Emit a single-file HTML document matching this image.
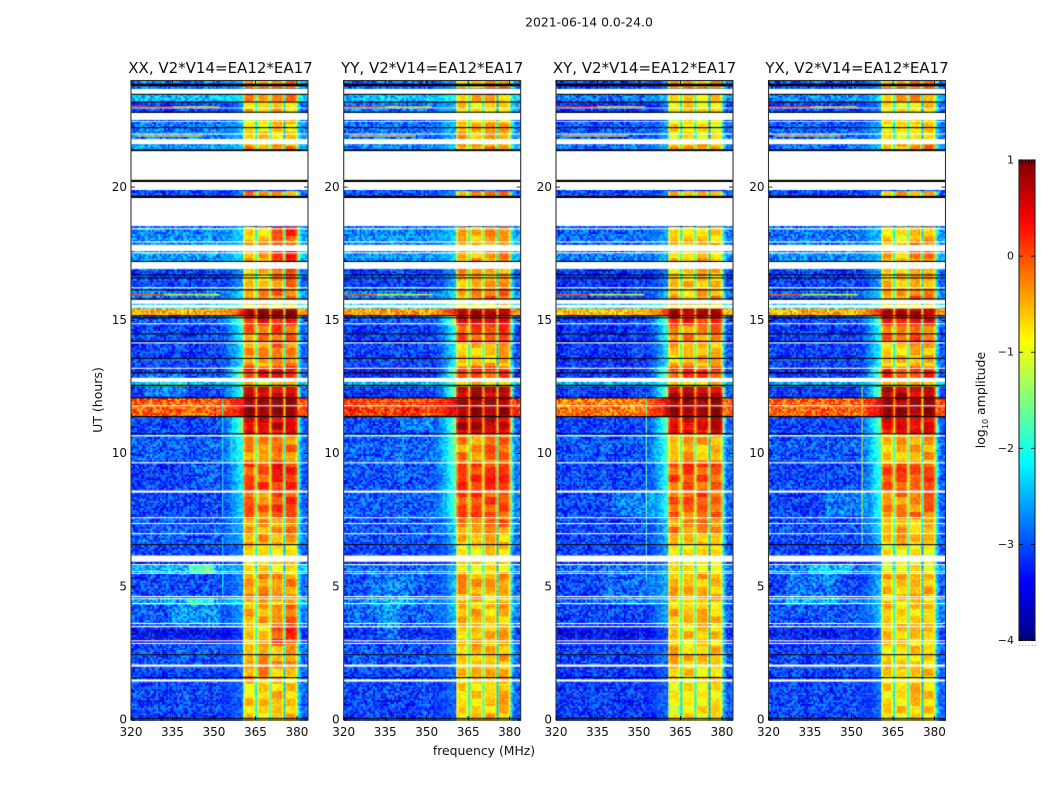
<!DOCTYPE html>
<html lang="en">
<head>
<meta charset="utf-8">
<title>2021-06-14 spectrograms</title>
<style>
html,body{margin:0;padding:0;background:#fff;}
#stage{position:relative;width:1050px;height:800px;overflow:hidden;background:#fff;font-family:"DejaVu Sans","Liberation Sans",sans-serif;}
canvas{position:absolute;display:block;}
svg{position:absolute;left:0;top:0;}
text{font-family:"DejaVu Sans","Liberation Sans",sans-serif;fill:#111;}
</style>
</head>
<body>
<div id="stage">
<canvas id="heat0"></canvas>
<canvas id="heat1"></canvas>
<canvas id="heat2"></canvas>
<canvas id="heat3"></canvas>
<svg id="overlay" width="1050" height="800" viewBox="0 0 1050 800">
<text x="589" y="26.5" font-size="12.4" text-anchor="middle">2021-06-14 0.0-24.0</text>
<text x="102" y="400" font-size="12.5" text-anchor="middle" transform="rotate(-90 102 400)">UT (hours)</text>
<text x="484" y="755" font-size="12.4" text-anchor="middle">frequency (MHz)</text>
<text x="985" y="400" font-size="12.5" text-anchor="middle" transform="rotate(-90 985 400)">log<tspan font-size="8" dy="3">10</tspan><tspan dy="-3"> amplitude</tspan></text>
</svg>
</div>
<script>
// Axis ticks and labels
const xTicks = [320, 335, 350, 365, 380];
const yTicks = [0, 5, 10, 15, 20];
const cbarTicks = [1, 0, -1, -2, -3, -4];
const panelNames = ["XX", "YY", "XY", "YX"];
const baselineName = "V2*V14=EA12*EA17";

// UT boundaries (hours) of the observing bands
const bandEdges = [0,1.5,2.06,2.89,3.52,4.35,4.61,5.51,5.85,6.19,6.6,6.97,7.61,8.62,9.67,10.76,11.4,12.11,12.56,12.71,13.27,14.17,14.85,15.19,15.49,15.67,16.24,16.95,17.62,18.07,18.56,19.61,19.91,21.43,21.63,22.46,22.8,23.21,23.51,23.7,24];

// log10 amplitude per band: below 350 MHz
const lowXX = [-3.12,-3.12,-3.02,-3.42,-2.97,-2.62,-3.07,-2.52,-3.12,-3.12,-2.97,-2.97,-3.12,-3.17,-2.97,-3.12,-0.1,-3.12,-2.42,-3.12,-3.12,-3.12,-3.02,-0.5,-2.32,-2.82,-3.12,-2.62,-2.72,-2.72,-3,-3.12,-3,-2.62,-2.82,-3.02,-3.12,-2.42,-3,-2.82];
const lowYY = [-3.12,-3.07,-3.02,-3.22,-2.97,-2.82,-3.07,-2.92,-3.22,-3.12,-3.02,-3.02,-2.97,-3.02,-2.92,-3.07,0.1,-3.22,-2.52,-3.32,-3.12,-3.17,-3.02,-0.4,-2.32,-2.82,-3.12,-2.72,-2.72,-2.72,-3,-3.02,-3,-2.72,-2.87,-3.02,-2.82,-2.42,-3,-2.92];
const lowXY = [-3.17,-3.17,-3.12,-3.42,-3.12,-3.02,-3.12,-2.92,-3.22,-3.12,-3.12,-3.12,-3.12,-3.12,-3.02,-3.12,-0.2,-3.22,-2.52,-3.22,-3.22,-3.22,-3.12,-0.6,-2.42,-3.02,-3.22,-2.82,-2.92,-2.92,-3,-3.12,-3,-2.82,-3.02,-3.22,-3.22,-2.82,-3,-3.12];
const lowYX = [-3.12,-3.12,-3.12,-3.32,-3.02,-2.82,-3.12,-2.82,-3.22,-3.12,-3.07,-3.07,-3.12,-3.12,-3.02,-3.12,-0.1,-3.22,-2.52,-3.22,-3.17,-3.17,-3.12,-0.5,-2.42,-2.92,-3.12,-2.72,-2.82,-2.82,-3,-3.12,-3,-2.82,-2.97,-3.12,-3.12,-2.72,-3,-3.02];

// log10 amplitude per band: just below 360 MHz
const midXX = [-2.9,-2.9,-2.8,-3.1,-2.6,-2.3,-2.7,-2.6,-2.9,-2.8,-2.5,-2.5,-2.2,-2.0,-1.9,-1.3,0.5,-1.7,-1.7,-1.3,-2.1,-1.9,-1.3,0.3,-1.8,-2.3,-2.6,-2.2,-2.3,-2.3,-3,-2.8,-3,-2.3,-2.4,-2.6,-2.7,-2.1,-3,-2.5];
const midYY = [-2.9,-2.8,-2.7,-2.9,-2.4,-2.3,-2.4,-2.5,-2.7,-2.6,-2.3,-2.2,-1.6,-1.6,-1.4,-1.4,0.6,-1.3,-1.7,-1.3,-2.0,-1.8,-1.2,0.4,-1.6,-2.2,-2.5,-2.3,-2.3,-2.3,-3,-2.6,-3,-2.3,-2.4,-2.6,-2.5,-2.0,-3,-2.5];
const midXY = [-2.9,-2.9,-2.8,-3.0,-2.5,-2.4,-2.4,-2.5,-2.7,-2.6,-2.4,-2.3,-1.9,-1.9,-1.7,-1.5,0.6,-1.4,-1.8,-1.4,-2.1,-1.9,-1.4,0.3,-1.8,-2.4,-2.7,-2.4,-2.5,-2.5,-3,-2.8,-3,-2.4,-2.6,-2.8,-2.8,-2.3,-3,-2.7];
const midYX = [-2.9,-2.8,-2.7,-2.9,-2.4,-2.4,-2.4,-2.5,-2.7,-2.6,-2.4,-2.2,-1.9,-1.8,-1.6,-1.5,0.6,-1.4,-1.8,-1.4,-2.0,-1.9,-1.4,0.3,-1.8,-2.3,-2.6,-2.4,-2.4,-2.4,-3,-2.8,-3,-2.4,-2.5,-2.8,-2.8,-2.2,-3,-2.6];

// log10 amplitude per band: spectral windows 1 and 2 (361-370 MHz)
const hiAXX = [-0.65,-0.3,-0.45,-0.6,-0.45,-0.5,-0.25,-0.75,-0.7,-0.7,-0.45,-0.35,-0.15,0.05,-0.3,0.6,0.95,0.7,-0.6,0.4,-0.35,-0.15,0.4,0.85,-0.7,-0.3,-0.6,-0.4,-0.35,-0.6,-3,-0.25,-3,-0.3,-0.75,-0.7,-0.6,-0.25,-3,-0.3];
const hiAYY = [-0.65,-0.55,-0.5,-0.55,-0.5,-0.5,-0.4,-0.75,-0.75,-0.75,-0.55,-0.25,0.1,0.15,-0.25,0.75,1,0.75,-0.6,0.2,-0.6,0.05,0.55,0.9,-0.7,-0.4,-0.4,-0.45,-0.45,-0.6,-3,-0.3,-3,-0.35,-0.5,-0.7,-0.7,-0.4,-3,-0.6];
const hiAXY = [-0.85,-0.6,-0.55,-0.65,-0.5,-0.6,-0.45,-0.75,-0.85,-0.8,-0.45,-0.25,-0.05,0.05,-0.45,0.55,1,0.75,-0.6,0.15,-0.5,-0.25,0.4,0.8,-0.7,-0.5,-0.6,-0.6,-0.5,-0.7,-3,-0.4,-3,-0.45,-0.75,-0.8,-0.8,-0.5,-3,-0.3];
const hiAYX = [-0.7,-0.6,-0.65,-0.6,-0.6,-0.6,-0.5,-0.85,-0.85,-0.85,-0.55,-0.5,-0.25,0.05,-0.5,0.55,1,0.8,-0.65,0.15,-0.65,-0.1,0.4,0.8,-0.7,-0.4,-0.6,-0.5,-0.55,-0.7,-3,-0.4,-3,-0.45,-0.8,-0.8,-0.7,-0.4,-3,-0.35];

// log10 amplitude per band: spectral windows 3 and 4 (371-380 MHz)
const hiBXX = [-0.55,-0.55,-0.35,0.1,-0.2,-0.5,-0.3,-0.75,-0.7,-0.7,-0.4,-0.25,0.05,0.2,-0.2,0.6,0.95,0.65,-0.6,0.35,-0.2,0,0.4,0.85,-0.7,-0.2,-0.2,0.25,-0.05,0.15,-3,-0.3,-3,-0.3,-0.7,-0.75,-0.55,-0.35,-3,-0.1];
const hiBYY = [-0.6,-0.5,-0.5,-0.5,-0.55,-0.6,-0.45,-0.75,-0.75,-0.7,-0.6,-0.2,0.05,0.2,-0.1,0.65,1,0.65,-0.65,0.15,-0.55,0.1,0.5,0.9,-0.7,-0.05,-0.4,-0.35,-0.3,-0.35,-3,-0.3,-3,-0.3,-0.4,-0.7,-0.75,-0.55,-3,-0.15];
const hiBXY = [-0.75,-0.7,-0.6,-0.6,-0.6,-0.65,-0.5,-0.8,-0.85,-0.75,-0.5,-0.3,-0.05,0,-0.5,0.55,1,0.65,-0.65,0.15,-0.5,-0.25,0.35,0.8,-0.75,-0.35,-0.6,-0.5,-0.55,-0.6,-3,-0.5,-3,-0.4,-0.8,-0.8,-0.8,-0.6,-3,-0.35];
const hiBYX = [-0.65,-0.65,-0.65,-0.6,-0.6,-0.65,-0.5,-0.85,-0.85,-0.8,-0.6,-0.5,-0.2,0.05,-0.4,0.55,1,0.7,-0.6,0.15,-0.5,-0.05,0.4,0.8,-0.7,-0.05,-0.5,-0.2,-0.3,-0.5,-3,-0.4,-3,-0.3,-0.65,-0.8,-0.7,-0.3,-3,-0.2];

const lowSeries = [lowXX, lowYY, lowXY, lowYX];
const midSeries = [midXX, midYY, midXY, midYX];
const hiASeries = [hiAXX, hiAYY, hiAXY, hiAYX];
const hiBSeries = [hiBXX, hiBYY, hiBXY, hiBYX];

// Spectral window limits in MHz
const windowStart = [360.6, 365.6, 370.7, 375.8];
const windowEnd = [365.0, 370.1, 375.2, 380.1];

// Centres (MHz) of the gaps between windows and how far each drops, in log amplitude
const gapCentre = [365.3, 370.4, 375.5];
const gapDrop = [1.5, 1.3, 1.9];

// Flagged data in UT hours: white = no data, black = zero amplitude
const whiteStart = [1.46,2.02,2.87,2.97,3.5,3.62,4.37,4.55,4.63,5.5,5.57,5.83,5.96,6.99,7.37,7.59,8.55,9.65,10.66,11.79,12.71,13.2,14.15,14.87,15.49,15.64,16.22,16.95,17.53,17.62,17.94,18.43,18.56,19.91,20.28,21.63,21.99,22.47,22.54,22.97,23.51];
const whiteEnd = [1.54,2.1,2.91,3.01,3.54,3.66,4.41,4.58,4.67,5.53,5.6,5.87,6.19,7.03,7.41,7.63,8.63,9.69,10.71,11.83,12.86,13.24,14.19,14.91,15.6,15.79,16.26,17.21,17.57,17.85,17.98,18.47,19.61,20.21,21.37,21.82,22.03,22.5,22.8,23.0,23.7];
const blackStart = [0.06,1.59,2.45,6.58,10.74,11.38,12.09,12.54,13.03,13.57,14.21,14.49,15.09,15.17,15.8,16.14,16.59,16.7,17.21,19.61,20.21,21.37,22.23,22.81,23.19,23.48,23.8];
const blackEnd = [0.1,1.63,2.49,6.62,10.78,11.43,12.13,12.6,13.07,13.61,14.25,14.53,15.13,15.21,15.84,16.18,16.63,16.74,17.25,19.69,20.29,21.44,22.27,22.85,23.23,23.52,23.9];

// Narrow horizontal RFI streaks: UT, start MHz, end MHz, log amplitude
const streakUT = [23.05,23.05,21.96,16.0,16.0];
const streakF0 = [320,335,322,320,332];
const streakF1 = [335,352,346,332,352];
const streakValue = [0.1,-0.8,-0.7,0.0,-0.9];

// Broad low-frequency enhancements per polarisation: UT range, MHz range, log offset
const patchPanel = [0,0,0,0,1,1,2,3,3,0,1,2,3];
const patchUT0 = [3.55,5.51,4.35,12.2,3.0,4.35,4.35,4.35,5.51,8.7,10.9,7.7,7.7];
const patchUT1 = [4.35,5.85,4.61,13.0,4.35,5.51,5.51,5.51,5.85,9.6,11.4,8.6,8.6];
const patchF0 = [335,341,340,325,332,330,338,326,335,342,340,340,340];
const patchF1 = [352,350,350,340,340,345,356,345,350,352,352,356,356];
const patchDelta = [0.3,0.8,0.7,0.3,0.35,0.3,0.25,0.3,0.4,0.25,0.3,0.35,0.3];

// Vertical narrow-band interference: panel, MHz, UT range, log amplitude
const lineF = [353.0,356.0,358.5,353.0,353.0,352.5,352.5,352.5,353.5,353.5,353.5];
const linePanel = [0,0,0,0,0,2,2,2,3,3,3];
const lineUT0 = [7.6,9.7,9.7,4.6,5.0,7.6,9.7,5.2,9.7,7.6,6.5];
const lineUT1 = [12.1,10.8,10.8,5.5,6.9,9.6,12.2,7.6,12.6,9.6,7.6];
const lineValue = [-1.9,-1.8,-1.8,-2.0,-2.1,-1.6,-1.6,-1.8,-1.1,-1.1,-1.4];

// Fixed illustrative grain for the noise texture (not measured data)
const speckle = [0.31,-0.42,0.08,-0.17,0.44,-0.29,0.12,-0.38,0.22,-0.05,0.37,-0.46,0.18,-0.11,0.27,-0.33,0.03,0.41,-0.24,0.14,-0.49,0.33,-0.08,0.24,-0.36,0.47,-0.15,0.06,-0.27,0.39,-0.41,0.16,-0.02,0.29,-0.35,0.1,-0.21,0.45,-0.31,0.2,-0.12,0.35,-0.44,0.05,0.26,-0.19,0.42];

// Geometry of the panels
const panelLeft = [131, 343.7, 556, 768.5];
const titleNudge = [1, 0, 0, 0];
const panelWidth = 177;
const plotTop = 80.5;
const plotHeight = 639.5;
const fMin = 320, fMax = 384, utMax = 24;
const cbLeft = 1019, cbRight = 1035, cbTop = 160, cbBottom = 640.5;
const vMin = -4, vMax = 1;

function xScale(f){ return (f - fMin) / (fMax - fMin) * panelWidth; }
function yScale(ut){ return plotHeight * (1 - ut / utMax); }
function cbScale(v){ return cbBottom - (v - vMin) / (vMax - vMin) * (cbBottom - cbTop); }
function clamp01(t){ return Math.max(0, Math.min(1, t)); }
function jet(v){
  const t = clamp01((v - vMin) / (vMax - vMin));
  const r = clamp01(Math.min(4 * t - 1.5, 4.5 - 4 * t));
  const g = clamp01(Math.min(4 * t - 0.5, 3.5 - 4 * t));
  const b = clamp01(Math.min(4 * t + 0.5, 2.5 - 4 * t));
  return "rgb(" + Math.round(r * 255) + "," + Math.round(g * 255) + "," + Math.round(b * 255) + ")";
}
function bandIndex(ut){
  for (let k = 0; k < bandEdges.length - 1; k++) {
    if (ut < bandEdges[k + 1]) return k;
  }
  return bandEdges.length - 2;
}
function windowLevel(p, k, f){
  return f < 370.4 ? hiASeries[p][k] : hiBSeries[p][k];
}
function cellValue(p, ut, f, grain, rowGrain){
  const k = bandIndex(ut);
  const low = lowSeries[p][k], mid = midSeries[p][k];
  const hi = windowLevel(p, k, f);
  if (f >= windowStart[0] && f <= windowEnd[3]) {
    let margin = 99;
    for (let w = 0; w < 4; w++) {
      if (f >= windowStart[w] - 0.6 && f <= windowEnd[w] + 0.6) {
        margin = Math.min(f - windowStart[w], windowEnd[w] - f);
      }
    }
    const edgeDrop = margin < 0.55 ? 0.4 : 0;
    return hi - edgeDrop + grain * 0.3 + rowGrain * 0.55;
  }
  if (f > windowEnd[3]) {
    const edge = hi - 1.35;
    const rest = low + 0.15;
    const m = clamp01((f - windowEnd[3]) / 1.6);
    return edge + (rest - edge) * m + grain * 0.8;
  }
  let v = low;
  if (f > 350) v = low + (mid - low) * Math.pow((f - 350) / 10.6, 2);
  for (let q = 0; q < patchPanel.length; q++) {
    if (patchPanel[q] === p && ut >= patchUT0[q] && ut < patchUT1[q] && f >= patchF0[q] && f < patchF1[q]) {
      v += patchDelta[q];
    }
  }
  const weight = f > 352 ? 0.6 : 1.05;
  return v + grain * weight;
}
function drawHeatmap(p){
  const canvas = document.getElementById("heat" + p);
  canvas.width = panelWidth;
  canvas.height = Math.ceil(plotHeight);
  canvas.style.left = panelLeft[p] + "px";
  canvas.style.top = plotTop + "px";
  const ctx = canvas.getContext("2d");
  ctx.fillStyle = "#fff";
  ctx.fillRect(0, 0, canvas.width, canvas.height);
  const fStep = 0.7, utStep = 0.07;
  const nf = Math.ceil((fMax - fMin) / fStep);
  const nt = Math.ceil(utMax / utStep);
  for (let j = 0; j < nt; j++) {
    const ut = j * utStep;
    const yTop = yScale(ut + utStep);
    const h = yScale(ut) - yTop;
    for (let i = 0; i < nf; i++) {
      const f = fMin + i * fStep;
      const g = speckle[(i * 7 + j * 13 + (i * j) % 11 + p * 5) % speckle.length];
      const win = f < 365.3 ? 0 : f < 370.4 ? 1 : f < 375.5 ? 2 : 3;
      const rowG = speckle[(Math.floor(j / 4) * 5 + win * 11 + p * 3) % speckle.length];
      ctx.fillStyle = jet(cellValue(p, ut + utStep / 2, f + fStep / 2, g, rowG));
      ctx.fillRect(xScale(f), yTop, xScale(f + fStep) - xScale(f) + 0.3, h + 0.3);
    }
    const k = bandIndex(ut + utStep / 2);
    for (let n = 0; n < gapCentre.length; n++) {
      const g2 = speckle[(j * 3 + n * 7 + p) % speckle.length];
      ctx.fillStyle = jet(windowLevel(p, k, gapCentre[n]) - gapDrop[n] + g2 * 0.4);
      ctx.fillRect(xScale(gapCentre[n] - 0.32), yTop, xScale(gapCentre[n] + 0.32) - xScale(gapCentre[n] - 0.32), h + 0.3);
    }
  }
  for (let s = 0; s < streakUT.length; s++) {
    ctx.fillStyle = jet(streakValue[s]);
    ctx.fillRect(xScale(streakF0[s]), yScale(streakUT[s]), xScale(streakF1[s]) - xScale(streakF0[s]), 1.2);
  }
  for (let l = 0; l < lineF.length; l++) {
    if (linePanel[l] !== p) continue;
    ctx.fillStyle = jet(lineValue[l]);
    ctx.fillRect(xScale(lineF[l]), yScale(lineUT1[l]), 1, yScale(lineUT0[l]) - yScale(lineUT1[l]));
  }
  ctx.fillStyle = "#fff";
  for (let w = 0; w < whiteStart.length; w++) {
    ctx.fillRect(0, yScale(whiteEnd[w]), panelWidth, yScale(whiteStart[w]) - yScale(whiteEnd[w]));
  }
  ctx.fillStyle = "#000";
  for (let b = 0; b < blackStart.length; b++) {
    ctx.fillRect(0, yScale(blackEnd[b]), panelWidth, yScale(blackStart[b]) - yScale(blackEnd[b]));
  }
}

const svgNS = "http://www.w3.org/2000/svg";
const overlay = document.getElementById("overlay");
function addLine(x1, y1, x2, y2, color, width){
  const el = document.createElementNS(svgNS, "line");
  el.setAttribute("x1", x1);
  el.setAttribute("y1", y1);
  el.setAttribute("x2", x2);
  el.setAttribute("y2", y2);
  el.setAttribute("stroke", color);
  el.setAttribute("stroke-width", width);
  overlay.appendChild(el);
  return el;
}
function addText(x, y, str, anchor, size){
  const el = document.createElementNS(svgNS, "text");
  el.setAttribute("x", x);
  el.setAttribute("y", y);
  el.setAttribute("text-anchor", anchor);
  el.setAttribute("font-size", size);
  el.textContent = str;
  overlay.appendChild(el);
  return el;
}
function drawAxes(p){
  const L = panelLeft[p], T = plotTop, R = L + panelWidth, B = plotTop + plotHeight;
  const frame = document.createElementNS(svgNS, "rect");
  frame.setAttribute("x", L);
  frame.setAttribute("y", T);
  frame.setAttribute("width", panelWidth);
  frame.setAttribute("height", plotHeight);
  frame.setAttribute("fill", "none");
  frame.setAttribute("stroke", "#333");
  frame.setAttribute("stroke-width", "1.1");
  
  
  overlay.appendChild(frame);

  const title = addText(L + panelWidth / 2 + titleNudge[p], 73, panelNames[p] + ", " + baselineName, "middle", 15);
  
  

  xTicks.forEach(function(f){
    const x = L + xScale(f);
    const t1 = addLine(x, B, x, B - 4, "#000", 0.8);
    
    
    const t2 = addLine(x, T, x, T + 4, "#000", 0.8);
    
    
    const lab = addText(x, 736, String(f), "middle", 12);
    
    
  });
  yTicks.forEach(function(u){
    const y = T + yScale(u);
    const t1 = addLine(L, y, L + 4, y, "#000", 0.8);
    
    
    const t2 = addLine(R, y, R - 4, y, "#000", 0.8);
    
    
    const lab = addText(L - 4, y + 3.7, String(u), "end", 12);
    
    
  });
}
function drawColorbar(){
  const steps = 240;
  for (let i = 0; i < steps; i++) {
    const v0 = vMin + (vMax - vMin) * i / steps;
    const v1 = vMin + (vMax - vMin) * (i + 1) / steps;
    const r = document.createElementNS(svgNS, "rect");
    r.setAttribute("x", cbLeft);
    r.setAttribute("y", cbScale(v1));
    r.setAttribute("width", cbRight - cbLeft);
    r.setAttribute("height", cbScale(v0) - cbScale(v1) + 0.4);
    r.setAttribute("fill", jet((v0 + v1) / 2));
    
    
    overlay.appendChild(r);
  }
  const frame = document.createElementNS(svgNS, "rect");
  frame.setAttribute("x", cbLeft);
  frame.setAttribute("y", cbTop);
  frame.setAttribute("width", cbRight - cbLeft);
  frame.setAttribute("height", cbBottom - cbTop);
  frame.setAttribute("fill", "none");
  frame.setAttribute("stroke", "#222");
  frame.setAttribute("stroke-width", "1.1");
  
  
  overlay.appendChild(frame);
  cbarTicks.forEach(function(v){
    const y = cbScale(v);
    const t1 = addLine(cbLeft, y, cbLeft + 4, y, "#000", 0.8);
    
    
    const t2 = addLine(cbRight, y, cbRight - 4, y, "#000", 0.8);
    
    
    const lab = addText(cbLeft - 5, y + 3.5, String(v).replace("-", "\u2212"), "end", 11);
    
    
  });
  for (let i = 0; i <= 5; i++) {
    const x = cbLeft + (cbRight - cbLeft) * i / 5;
    const t1 = addLine(x, cbTop, x, cbTop + 4, "#000", 0.7);
    
    
    const t2 = addLine(x, cbBottom, x, cbBottom - 4, "#000", 0.7);
    
    
    const dot = addLine(x, 645.5, x + 1, 645.5, "#999", 1);
    
    
  }
}
for (let p = 0; p < panelNames.length; p++) {
  drawHeatmap(p);
  drawAxes(p);
}
drawColorbar();
</script>
</body>
</html>
